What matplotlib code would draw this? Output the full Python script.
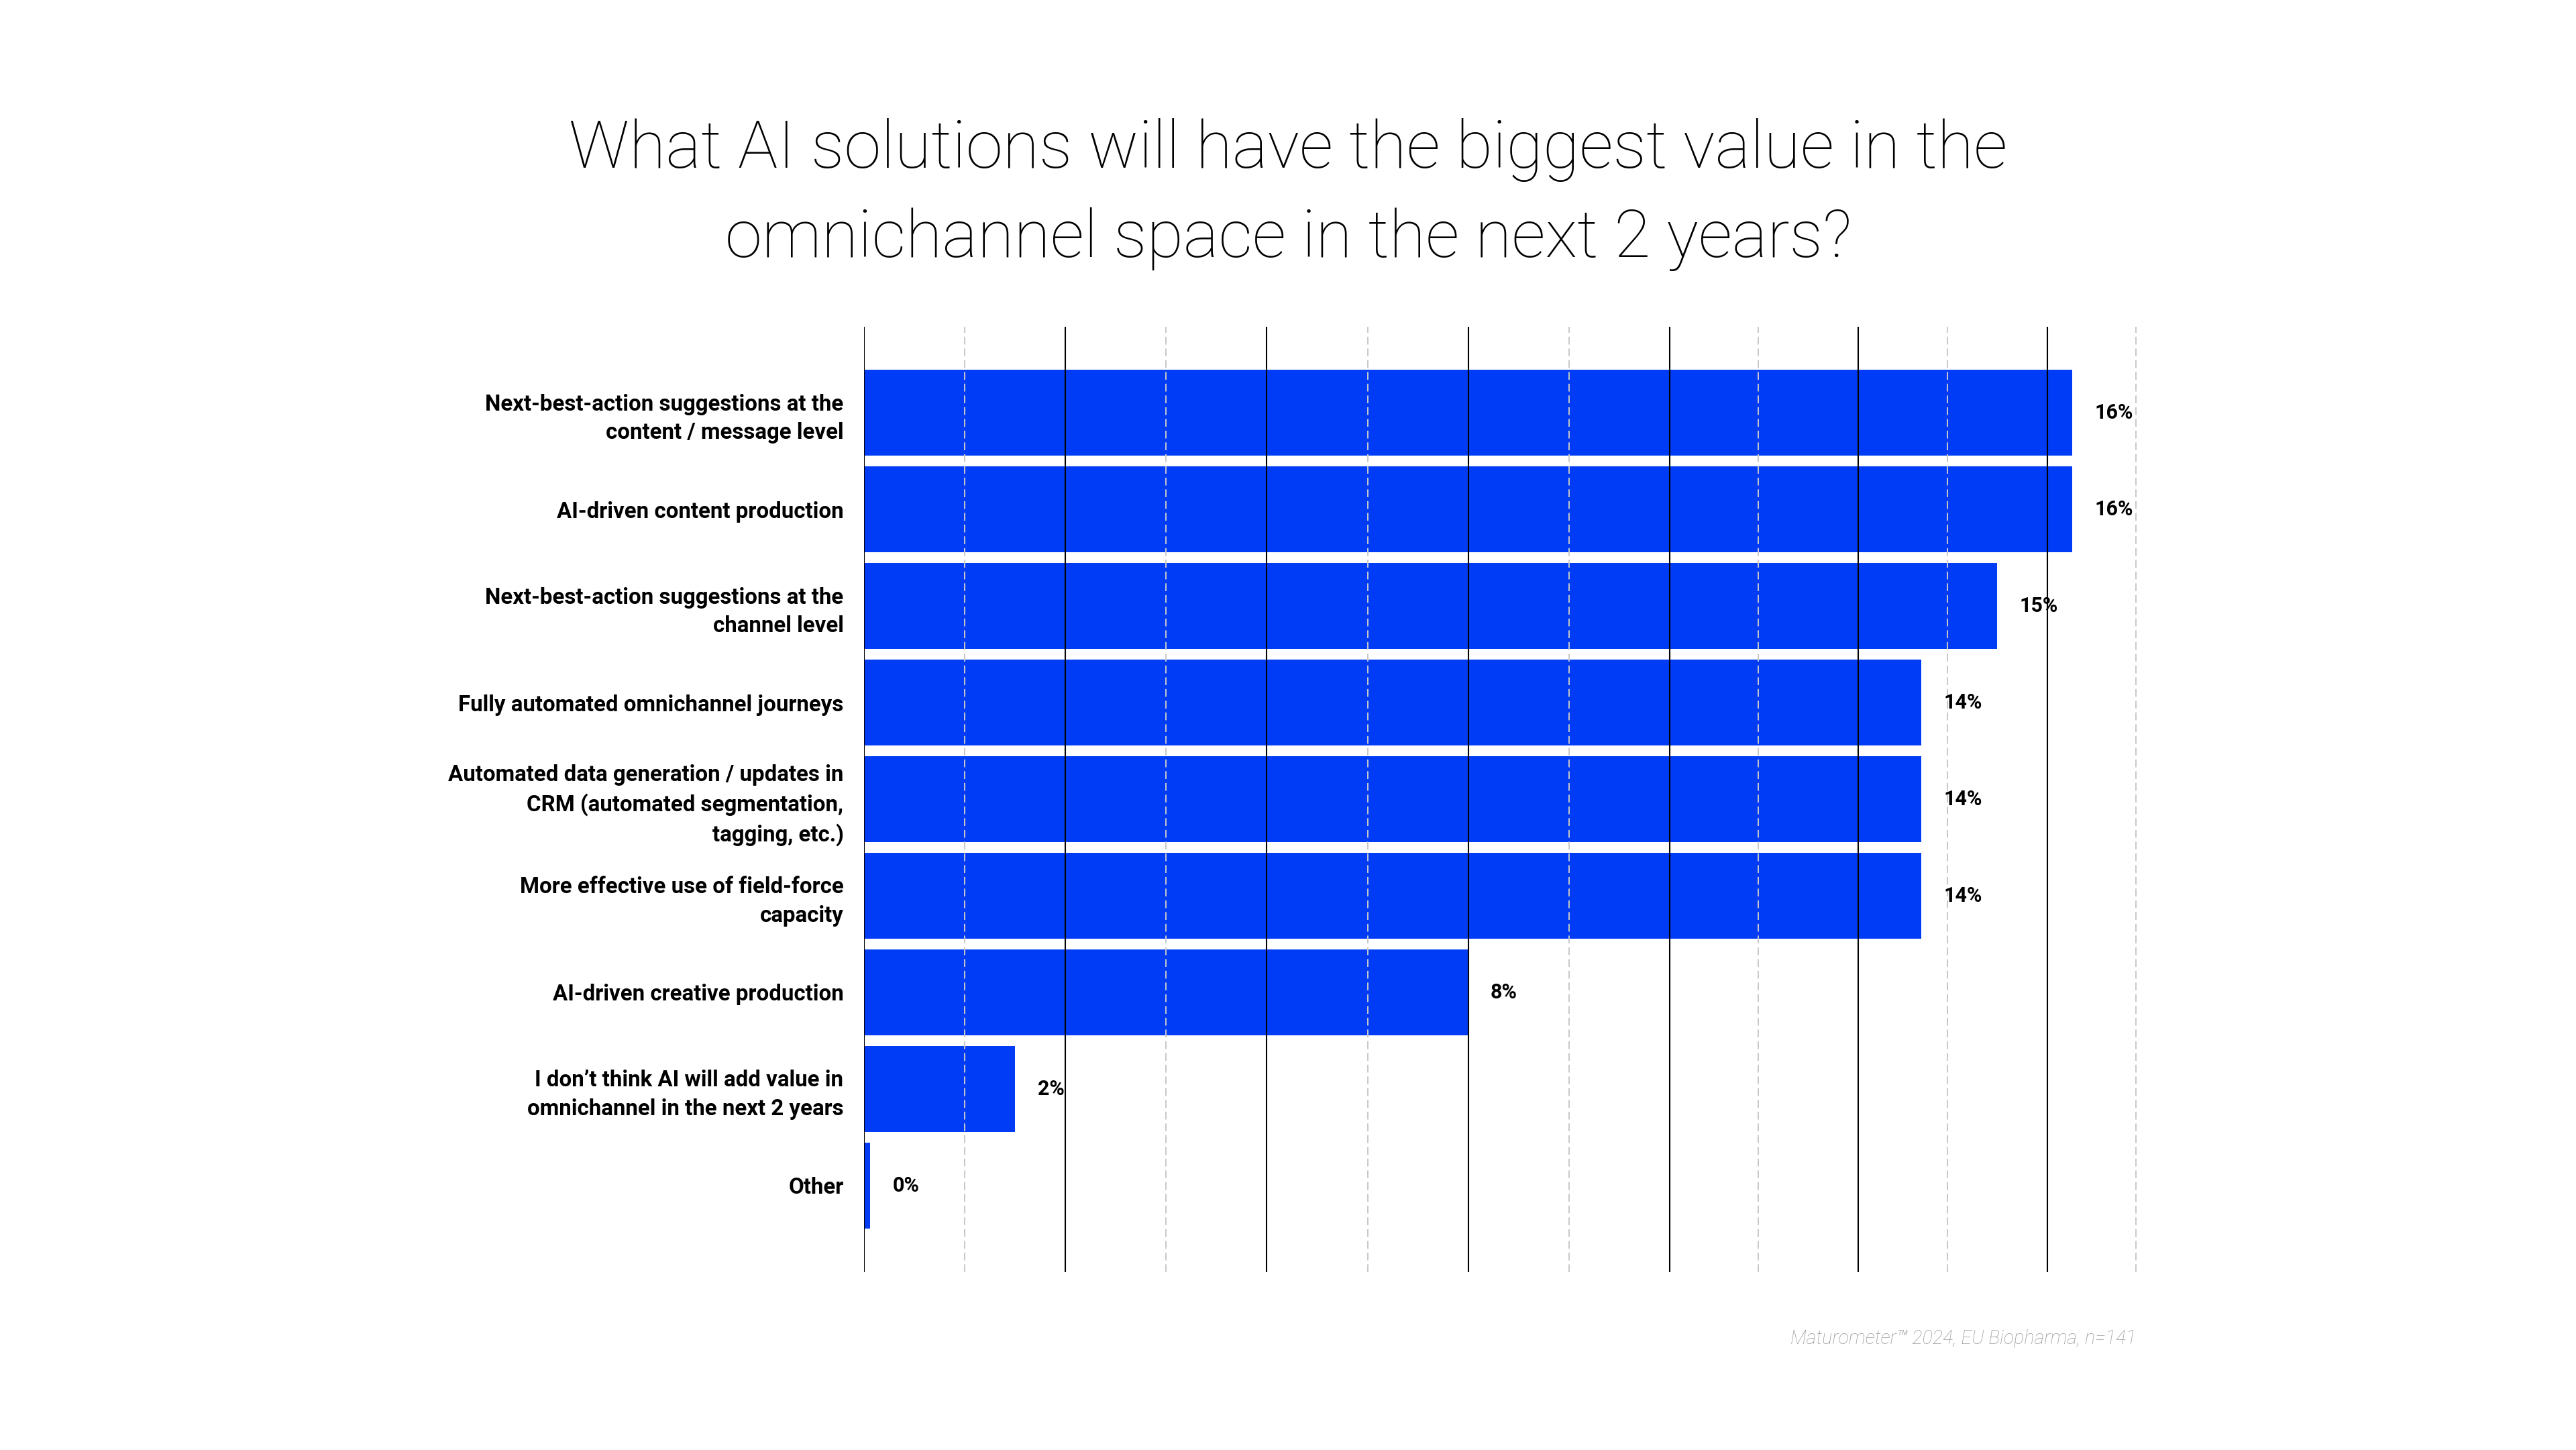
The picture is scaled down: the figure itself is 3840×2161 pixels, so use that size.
import numpy as np
import matplotlib
matplotlib.use("Agg")
import matplotlib.pyplot as plt

# ── Data ──────────────────────────────────────────────────────────────────────
categories = [
    "Next-best-action suggestions at the\ncontent / message level",
    "AI-driven content production",
    "Next-best-action suggestions at the\nchannel level",
    "Fully automated omnichannel journeys",
    "Automated data generation / updates in\nCRM (automated segmentation,\ntagging, etc.)",
    "More effective use of field-force\ncapacity",
    "AI-driven creative production",
    "I don\u2019t think AI will add value in\nomnichannel in the next 2 years",
    "Other",
]
values = [16, 16, 15, 14, 14, 14, 8, 2, 0.08]   # % of respondents
value_labels = ["16%", "16%", "15%", "14%", "14%", "14%", "8%", "2%", "0%"]

grid_major = [0, 2.667, 5.333, 8, 10.667, 13.16, 15.67]
grid_minor = [1.333, 4, 6.667, 9.333, 11.84, 14.34, 16.84]

title_lines = [
    "What AI solutions will have the biggest value in the",
    "omnichannel space in the next 2 years?",
]
source = "Maturometer\u2122 2024, EU Biopharma, n=141"

BLUE = "#003cf5"
FONT = ["Roboto", "DejaVu Sans"]

# ── Figure ────────────────────────────────────────────────────────────────────
W, H = 3841, 2161
fig = plt.figure(figsize=(W / 200, H / 200), dpi=200)
fig.patch.set_facecolor("white")

ax = fig.add_axes([1288 / W, 1 - 1896 / H, 1914 / W, (1896 - 487) / H])
y = np.arange(len(categories))

bars = ax.barh(y, values, height=0.889, color=BLUE, zorder=1)

# grid: solid black majors, light dashed minors, drawn over the bars
for gx in grid_major:
    ax.axvline(gx, color="black", linewidth=0.75, zorder=2)
for gx in grid_minor:
    ax.axvline(gx, color="#c8c8c8", linewidth=0.7, linestyle=(0, (6, 3)), zorder=2)

ax.set_xlim(0, 17)
ax.set_ylim(8.896, -0.889)

ax.set_yticks(y, categories, family=FONT, fontweight="bold", fontsize=11.9,
              linespacing=1.42)
ax.tick_params(axis="y", length=0, pad=11)
ax.set_xticks([])
for s in ax.spines.values():
    s.set_visible(False)

ax.bar_label(bars, labels=value_labels, padding=12,
             family=FONT, fontweight="bold", fontsize=11)

# ── Title and source ──────────────────────────────────────────────────────────
fig.text(0.5, 1 - 250 / H, title_lines[0], ha="center", va="baseline",
         family=FONT, fontweight="light", fontsize=35.8)
fig.text(0.5, 1 - 383 / H, title_lines[1], ha="center", va="baseline",
         family=FONT, fontweight="light", fontsize=35.8)

fig.text(3185 / W, 1 - 2003 / H, source, ha="right", va="baseline",
         family=FONT, fontweight="light", style="italic",
         fontsize=10.3, color="#999999")

fig.savefig("out.png", dpi=200, facecolor="white")
